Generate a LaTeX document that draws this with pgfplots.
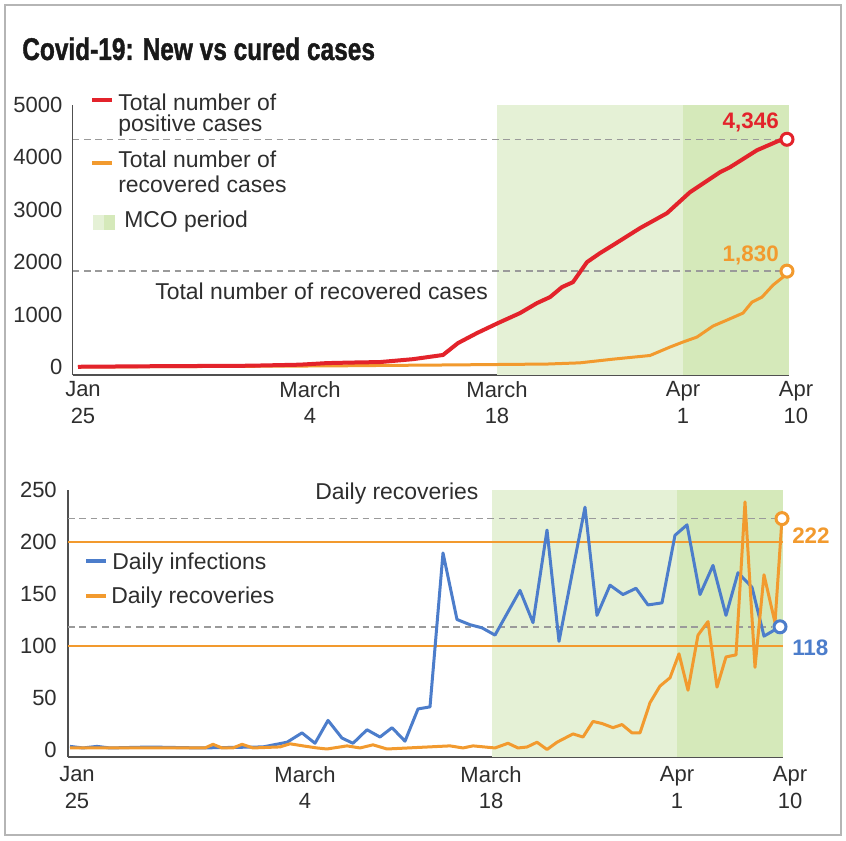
\documentclass[border=0pt]{standalone}
\usepackage{fontspec}
\setmainfont{Liberation Sans}
\newfontfamily\titlefont{Liberation Sans}[FakeStretch=0.78,FakeBold=1.2]
\usepackage{pgfplots}
\pgfplotsset{compat=1.18}
\definecolor{cred}{HTML}{E3232B}
\definecolor{corange}{HTML}{F29A2E}
\definecolor{cblue}{HTML}{4C7DCB}
\definecolor{lgreen}{HTML}{E5F1D6}
\definecolor{dgreen}{HTML}{D5E9BA}
\definecolor{axgray}{HTML}{505050}
\definecolor{dashgray}{HTML}{9A9A9A}
\definecolor{framegray}{HTML}{B5B5B5}
\definecolor{txt}{HTML}{2E2E2E}
\newcommand\fs{\fontsize{16.5}{20}\selectfont}
\newcommand\ft{\fontsize{17.2}{20}\selectfont}
\newcommand\fb{\fontsize{16.8}{20}\selectfont\bfseries}
\pgfplotsset{common/.style={scale only axis, clip=false,
  axis x line*=bottom, axis y line*=left,
  x axis line style={-,axgray,line width=1.5pt},
  y axis line style={-,axgray,line width=1.1pt},
  major tick length=0pt,
  tick label style={font=\fs, text=txt, inner sep=0pt},
  xticklabel style={align=center},
  scaled y ticks=false,
  /pgf/number format/assume math mode=true,
  /pgf/number format/set thousands separator={}},
  dashref/.style={dashgray, line width=1.1pt, dash pattern=on 5pt off 3.5pt},
  oref/.style={draw=corange, solid, line width=1.5pt, mark=none}}
\begin{document}
\begin{tikzpicture}[x=0.75pt,y=0.75pt]
\fill[white] (0,0) rectangle (846,840);
\draw[framegray,line width=1.5pt] (5,5) rectangle (841,835);
\node[anchor=base west,inner sep=0pt,font=\titlefont\bfseries\fontsize{23.5}{27}\selectfont,text=black!90] at (22,780) {Covid-19: New vs cured cases};

% ---------- top panel ----------
\begin{axis}[common, at={(54.525pt,348.75pt)}, anchor=south west,
  width=537.2pt, height=202.5pt,
  xmin=72.7, xmax=789, ymin=-152, ymax=5000,
  ytick={0,1000,2000,3000,4000,5000},
  yticklabel style={xshift=-7.5pt},
  xtick={83,310,497,683},
  xticklabels={{Jan\\25},{March\\4},{March\\18},{Apr\\1}},
  xticklabel style={yshift=-4.5pt},
  extra x ticks={789}, extra x tick labels={{Apr\\10}},
  extra x tick style={xticklabel style={xshift=5.25pt}}]
\addplot[draw=none, fill=lgreen] coordinates {(497,-152) (497,5000) (683,5000) (683,-152)} -- cycle;
\addplot[draw=none, fill=dgreen] coordinates {(683,-152) (683,5000) (789,5000) (789,-152)} -- cycle;
\addplot[dashref] coordinates {(72.7,4346) (787,4346)};
\addplot[dashref] coordinates {(72.7,1830) (787,1830)};
\addplot[corange, line width=2.25pt, line join=round] coordinates {
(78,1) (200,10) (333,22) (380,30) (450,40) (547,57) (580,80) (613,150) (650,220)
(670,381) (683,477) (697,572) (713,782) (727,896) (743,1029) (752,1239) (762,1334)
(773,1563) (783,1716) (787,1830)};
\addplot[cred, line width=3pt, line join=round] coordinates {
(78,5) (150,15) (250,25) (300,45) (327,75) (350,85) (380,95) (413,150) (443,230)
(458,457) (477,648) (498,839) (520,1029) (537,1220) (550,1334) (562,1525) (573,1620)
(587,2002) (600,2173) (613,2326) (640,2650) (667,2936) (690,3336) (720,3717)
(730,3812) (757,4137) (780,4327) (787,4346)};
\addplot[only marks, mark=*, mark size=4.5pt, mark options={fill=white, draw=cred, line width=2.25pt}] coordinates {(787,4346)};
\addplot[only marks, mark=*, mark size=4.5pt, mark options={fill=white, draw=corange, line width=2.25pt}] coordinates {(787,1830)};
\end{axis}

% ---------- bottom panel ----------
\begin{axis}[common, at={(51pt,62.25pt)}, anchor=south west,
  width=536.25pt, height=200.625pt,
  xmin=68, xmax=783, ymin=-7.2, ymax=250,
  ytick={0,50,100,150,200,250},
  yticklabel style={xshift=-8.25pt},
  xtick={77,305,491,677},
  xticklabels={{Jan\\25},{March\\4},{March\\18},{Apr\\1}},
  xticklabel style={yshift=-6.75pt},
  extra x ticks={783}, extra x tick labels={{Apr\\10}},
  extra x tick style={xticklabel style={xshift=5.25pt}}]
\addplot[draw=none, fill=lgreen] coordinates {(492,-7.2) (492,250) (677,250) (677,-7.2)} -- cycle;
\addplot[draw=none, fill=dgreen] coordinates {(677,-7.2) (677,250) (783,250) (783,-7.2)} -- cycle;
\addplot[oref] coordinates {(68,200) (783,200)};
\addplot[oref] coordinates {(68,100) (783,100)};
\addplot[dashref] coordinates {(68,222) (776,222)};
\addplot[dashref] coordinates {(68,118) (772,118)};
\addplot[cblue, line width=2.25pt, line join=round] coordinates {
(70,3) (83,1.5) (97,3) (110,1.5) (150,2.4) (200,1.5) (263,2.5) (287,7) (302,16)
(315,6) (328,28) (342,11) (353,6) (367,19) (380,12) (392,21) (405,8) (418,39)
(430,41) (443,189) (457,125) (470,120) (482,117) (495,110) (520,153) (533,122)
(547,211) (559,104) (585,233) (597,129) (610,158) (623,149) (636,155) (648,139)
(662,141) (675,206) (687,216) (700,149) (713,177) (726,129) (738,170) (752,156)
(764,109) (780,118)};
\addplot[corange, line width=2.25pt, line join=round] coordinates {
(70,1.5) (205,1.5) (213,5) (222,1.5) (233,1.5) (242,5) (253,1.5) (280,2.5) (290,5.5)
(303,3.5) (317,1.5) (327,0.5) (347,3.5) (360,1.5) (373,4.5) (387,0.5) (450,3.5)
(463,1.5) (473,3.5) (495,1.5) (508,6) (518,1.5) (527,2.4) (537,7) (547,0) (557,7)
(573,15) (583,12) (593,27) (602,25) (613,21) (622,24) (632,16) (640,16) (650,45)
(660,61) (670,69) (679,92) (688,57) (698,110) (708,123) (717,60) (726,89) (736,91)
(745,238) (755,79) (764,168) (775,122) (782,222)};
\addplot[only marks, mark=*, mark size=4.5pt, mark options={fill=white, draw=cblue, line width=2.25pt}] coordinates {(780,118)};
\addplot[only marks, mark=*, mark size=4.5pt, mark options={fill=white, draw=corange, line width=2.25pt}] coordinates {(782,222)};
\end{axis}

% ---------- annotations & legends ----------
\begin{scope}[every node/.style={inner sep=0pt, text=txt, font=\ft}]
% top legend
\draw[cred, line width=3pt] (92,740) -- (112,740);
\node[anchor=base west] at (118,729) {Total number of};
\node[anchor=base west] at (118,708) {positive cases};
\draw[corange, line width=3pt] (92,677) -- (112,677);
\node[anchor=base west] at (118,672) {Total number of};
\node[anchor=base west] at (118,647) {recovered cases};
\fill[lgreen] (93,610) rectangle (104,625);
\fill[dgreen] (104,610) rectangle (115,625);
\node[anchor=base west] at (124,612) {MCO period};
\node[anchor=base west] at (155,540) {Total number of recovered cases};
\node[anchor=base east, font=\fb, text=cred] at (779,711) {4,346};
\node[anchor=base east, font=\fb, text=corange] at (779,578) {1,830};
% bottom legend
\node[anchor=base west] at (315,340) {Daily recoveries};
\draw[cblue, line width=3pt] (86,279) -- (106,279);
\node[anchor=base west] at (112,271) {Daily infections};
\draw[corange, line width=3pt] (86,244) -- (106,244);
\node[anchor=base west] at (111,237) {Daily recoveries};
\node[anchor=base west, font=\fb, text=corange] at (792,297) {222};
\node[anchor=base west, font=\fb, text=cblue] at (792,185) {118};
\end{scope}
\end{tikzpicture}
\end{document}
